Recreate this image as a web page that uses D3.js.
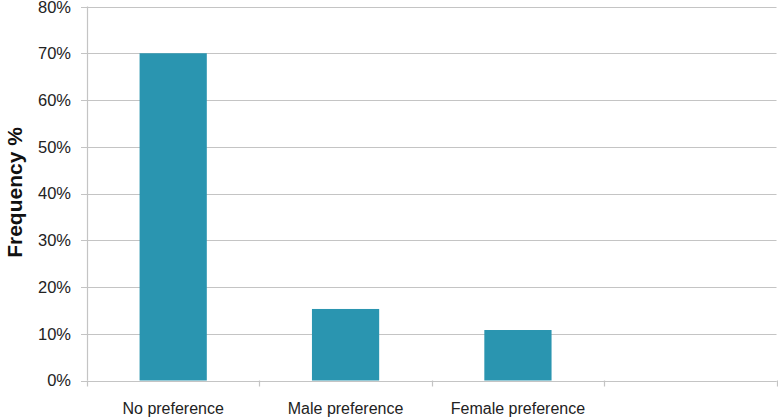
<!DOCTYPE html>
<html><head><meta charset="utf-8">
<script src="https://cdn.jsdelivr.net/npm/d3@7"></script>
<style>body{margin:0;background:#fff}svg{display:block}</style>
</head><body>
<svg id="c" width="778" height="419"></svg>
<script>
const categories = ["No preference", "Male preference", "Female preference", ""];
const values = [70, 15.3, 10.8, null];
const yTicks = [0, 10, 20, 30, 40, 50, 60, 70, 80];

const svg = d3.select("#c");
const m = {left: 87, right: 1.5, top: 6.5, bottom: 38.5};
const W = 778, H = 419;
const x = d3.scaleBand().domain(categories.map((d,i)=>i)).range([m.left, W - m.right]).paddingInner(0.61).paddingOuter(0.305);
const y = d3.scaleLinear().domain([0, 80]).range([H - m.bottom, m.top]);
const grid = "#c4c4c4";
const font = "Liberation Sans, Arial, sans-serif";

// gridlines
svg.append("g").selectAll("line").data(yTicks).join("line")
  .attr("x1", m.left - 6).attr("x2", W - m.right)
  .attr("y1", d => Math.round(y(d)) + 0.5).attr("y2", d => Math.round(y(d)) + 0.5)
  .attr("stroke", grid).attr("stroke-width", 1.2);

// y labels
svg.append("g").selectAll("text").data(yTicks).join("text")
  .attr("x", 71).attr("y", d => Math.max(y(d), 7.5)).attr("dy", "0.35em")
  .attr("text-anchor", "end").attr("font-family", font).attr("font-size", 16.5)
  .attr("fill", "#222").text(d => d + "%");

// y axis line
svg.append("line").attr("x1", m.left + 0.5).attr("x2", m.left + 0.5)
  .attr("y1", m.top).attr("y2", y(0)).attr("stroke", grid).attr("stroke-width", 1.2);

// bars
svg.append("g").selectAll("rect").data(values.map((v,i)=>({v,i})).filter(d => d.v != null)).join("rect")
  .attr("x", d => x(d.i)).attr("width", x.bandwidth())
  .attr("y", d => y(d.v)).attr("height", d => y(0) - y(d.v))
  .attr("fill", "#2a95b0");

// x axis line & ticks
const step = x.step();
const tickPos = d3.range(categories.length + 1).map(i => m.left + i * step);
svg.append("line").attr("x1", m.left).attr("x2", W - m.right)
  .attr("y1", Math.round(y(0)) + 0.5).attr("y2", Math.round(y(0)) + 0.5)
  .attr("stroke", grid).attr("stroke-width", 1.2);
svg.append("g").selectAll("line").data(tickPos).join("line")
  .attr("x1", d => Math.round(d) + 0.5).attr("x2", d => Math.round(d) + 0.5)
  .attr("y1", y(0)).attr("y2", y(0) + 6)
  .attr("stroke", grid).attr("stroke-width", 1.2);

// x labels
svg.append("g").selectAll("text").data(categories).join("text")
  .attr("x", (d,i) => x(i) + x.bandwidth() / 2).attr("y", 414)
  .attr("text-anchor", "middle").attr("font-family", font).attr("font-size", 16)
  .attr("fill", "#222").text(d => d);

// y title
svg.append("text").attr("transform", `translate(22,192.5) rotate(-90)`)
  .attr("text-anchor", "middle").attr("font-family", font).attr("font-size", 21)
  .attr("font-weight", "bold").attr("fill", "#111").text("Frequency %");
</script>
</body></html>
